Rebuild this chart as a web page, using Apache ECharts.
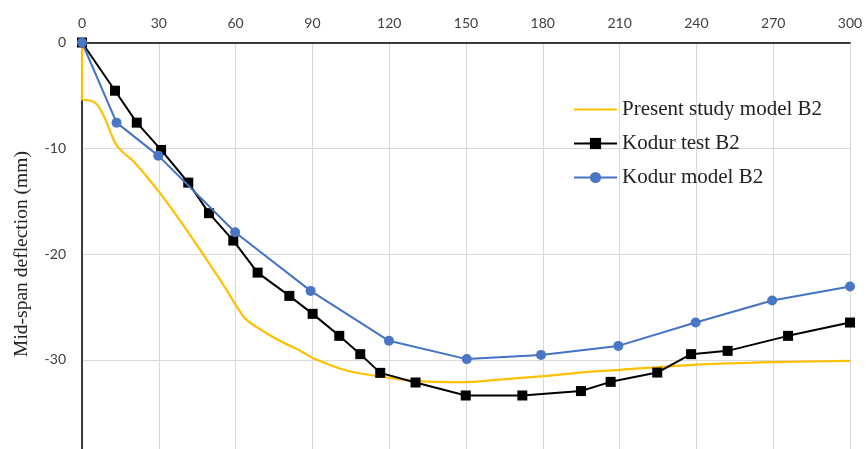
<!DOCTYPE html>
<html>
<head>
<meta charset="utf-8">
<script src="https://cdn.jsdelivr.net/npm/echarts@6/dist/echarts.min.js"></script>
<style>html,body{margin:0;padding:0;background:#fff;overflow:hidden;}#wrap{width:866px;height:449px;overflow:hidden;position:relative;}#c{width:866px;height:470px;}</style>
</head>
<body>
<div id="wrap"><div id="c"></div></div>
<script>
const xTicks = [0, 30, 60, 90, 120, 150, 180, 210, 240, 270, 300];
const yTicks = [0, -10, -20, -30];

const presentX = [0, 0, 2, 4, 6, 8, 10, 12, 14, 17, 20, 25, 30.5, 37, 43.5, 50, 56.5, 59.6, 64.3, 72.1, 78, 85.2, 90.3, 103.4, 116.4, 129.4, 148.9, 162, 181.5, 194.5, 210.2, 238.8, 270, 300];
const presentY = [0, -5.4, -5.45, -5.55, -5.9, -6.7, -7.8, -9.0, -9.9, -10.6, -11.2, -12.6, -14.25, -16.4, -18.67, -21.0, -23.4, -24.65, -26.23, -27.49, -28.3, -29.15, -29.85, -31.02, -31.59, -32.0, -32.12, -31.9, -31.52, -31.21, -30.95, -30.48, -30.23, -30.1];

const testX = [0, 12.9, 21.4, 30.9, 41.5, 49.6, 59.1, 68.6, 81.0, 90.1, 100.5, 108.7, 116.5, 130.3, 149.9, 172.0, 194.9, 206.5, 224.7, 237.9, 252.2, 275.8, 300];
const testY = [0, -4.56, -7.58, -10.16, -13.25, -16.14, -18.73, -21.76, -23.96, -25.66, -27.74, -29.47, -31.24, -32.15, -33.38, -33.38, -32.96, -32.09, -31.21, -29.47, -29.16, -27.74, -26.48];

const modelX = [0, 13.5, 29.8, 59.8, 89.3, 119.9, 150.3, 179.3, 209.5, 239.7, 269.6, 300];
const modelY = [0, -7.58, -10.7, -17.94, -23.49, -28.21, -29.94, -29.54, -28.69, -26.48, -24.40, -23.08];

const zip = (xs, ys) => xs.map((x, i) => [x, ys[i]]);

const chart = echarts.init(document.getElementById('c'));
chart.setOption({
  animation: false,
  backgroundColor: '#fff',
  grid: { left: 82, right: 16, top: 42.5, bottom: 4.5 },
  legend: {
    orient: 'vertical',
    left: 568,
    top: 94,
    itemWidth: 43,
    itemHeight: 14,
    itemGap: 13,
    textStyle: { fontFamily: 'Liberation Serif', fontSize: 21, color: '#222' },
    data: [
      { name: 'Present study model B2', itemStyle: { opacity: 0 } },
      'Kodur test B2',
      'Kodur model B2'
    ]
  },
  xAxis: {
    type: 'value', position: 'top', min: 0, max: 300, interval: 30,
    axisLine: { show: true, lineStyle: { color: '#000', width: 1.5 } },
    axisTick: { show: false },
    axisLabel: { margin: 12, fontFamily: 'Lato', fontSize: 14, color: '#404040',
      formatter: v => xTicks.includes(v) ? String(v) : '' },
    splitLine: { show: true, lineStyle: { color: '#d9d9d9', width: 1 } }
  },
  yAxis: {
    type: 'value', min: -40, max: 0, interval: 10,
    name: 'Mid-span deflection (mm)', nameLocation: 'middle', nameGap: 50,
    nameTextStyle: { fontFamily: 'Liberation Serif', fontSize: 19.5, color: '#222' },
    axisLine: { show: true, onZero: false, lineStyle: { color: '#000', width: 1.5 } },
    axisTick: { show: false },
    axisLabel: { margin: 16, fontFamily: 'Lato', fontSize: 14, color: '#404040',
      formatter: v => yTicks.includes(v) ? String(v) : '' },
    splitLine: { show: true, lineStyle: { color: '#d9d9d9', width: 1 } }
  },
  series: [
    {
      name: 'Present study model B2', type: 'line', data: zip(presentX, presentY),
      symbol: 'none', smooth: 0.3, color: '#ffc000',
      lineStyle: { color: '#ffc000', width: 2.2 }, z: 3
    },
    {
      name: 'Kodur test B2', type: 'line', data: zip(testX, testY),
      symbol: 'rect', symbolSize: 10, color: '#000',
      lineStyle: { color: '#000', width: 2 }, itemStyle: { color: '#000' }, z: 4
    },
    {
      name: 'Kodur model B2', type: 'line', data: zip(modelX, modelY),
      symbol: 'circle', symbolSize: 10, color: '#4472c4',
      lineStyle: { color: '#4472c4', width: 2 }, itemStyle: { color: '#4a76c6' }, z: 5
    }
  ]
});
</script>
</body>
</html>
